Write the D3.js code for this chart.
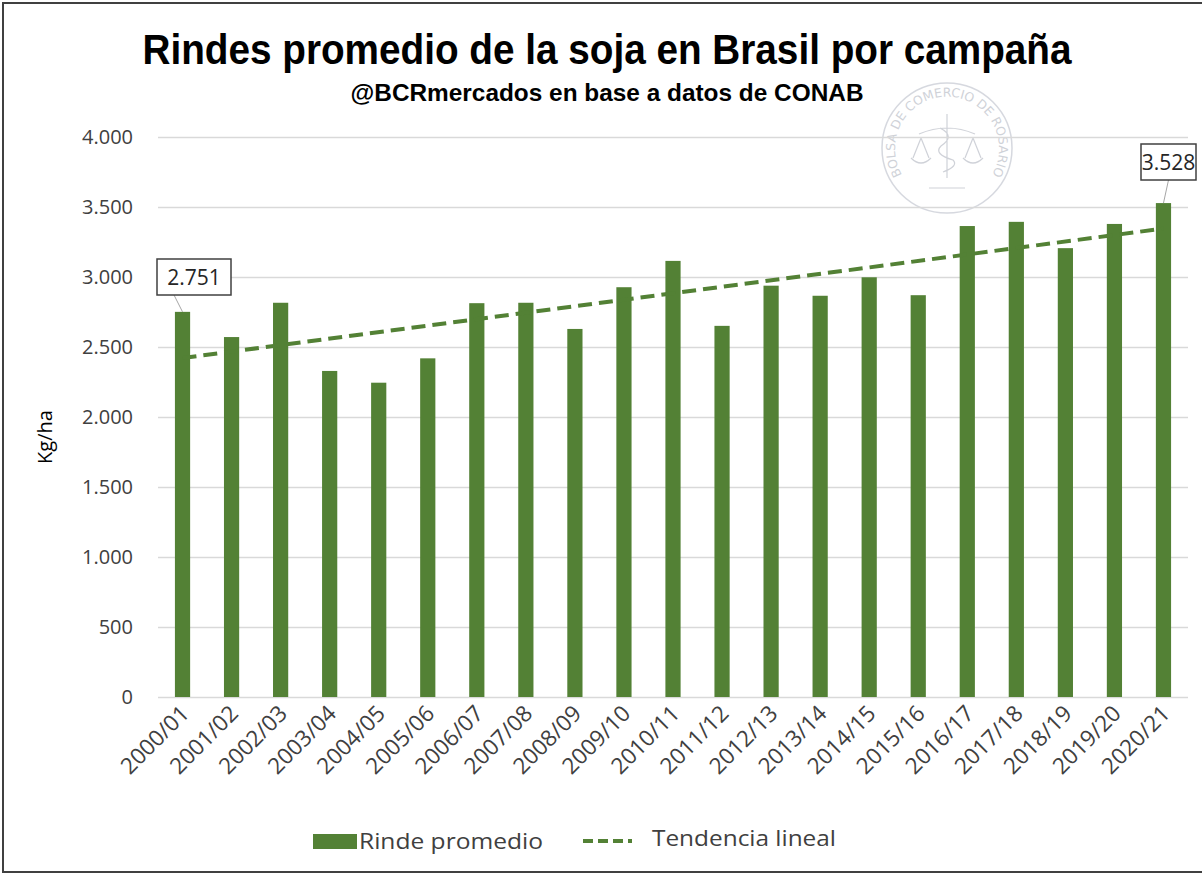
<!DOCTYPE html>
<html>
<head>
<meta charset="utf-8">
<script src="https://cdn.jsdelivr.net/npm/d3@7"></script>
<style>
  html, body { margin: 0; padding: 0; background: #fff; }
  svg { display: block; }
  .tick-label { font-family: "Open Sans", sans-serif; fill: #404040; }
</style>
</head>
<body>
<div id="chart"></div>
<script>
const campaigns = ["2000/01", "2001/02", "2002/03", "2003/04", "2004/05", "2005/06", "2006/07",
    "2007/08", "2008/09", "2009/10", "2010/11", "2011/12", "2012/13", "2013/14", "2014/15",
    "2015/16", "2016/17", "2017/18", "2018/19", "2019/20", "2020/21"];
const yields = [2751, 2571, 2816, 2329, 2245, 2419, 2813, 2816, 2629, 2927, 3115, 2651,
    2938, 2866, 2998, 2870, 3364, 3394, 3206, 3379, 3528];
const trendEnds = [2421, 3346];
const yTicks = [0, 500, 1000, 1500, 2000, 2500, 3000, 3500, 4000];
const labelled = ["2000/01", "2020/21"];

const width = 1202, height = 875;
const green = "#538135";
const fmt = v => d3.format(",")(v).replace(/,/g, ".");

const svg = d3.select("#chart").append("svg")
    .attr("width", width)
    .attr("height", height);

// outer frame
svg.append("rect")
    .attr("x", 3).attr("y", 3)
    .attr("width", width + 10).attr("height", height - 6)
    .attr("fill", "none").attr("stroke", "#404040").attr("stroke-width", 2);

const x = d3.scaleBand()
    .domain(campaigns)
    .range([158, 1188])
    .paddingInner(0.69)
    .paddingOuter(0.345);

const y = d3.scaleLinear()
    .domain([0, 4000])
    .range([697, 137]);

// watermark seal
const seal = svg.append("g").attr("transform", "translate(947,148)").attr("opacity", 0.4);
seal.append("circle").attr("r", 65).attr("fill", "none").attr("stroke", "#9aa0b0").attr("stroke-width", 1.5);
seal.append("path").attr("id", "sealArc")
    .attr("d", "M -34,40 A 52,52 0 1,1 34,40")
    .attr("fill", "none");
seal.append("text")
    .style("font-family", "DejaVu Sans, sans-serif")
    .style("font-size", "12.5px")
    .attr("fill", "#8a90a0")
    .append("textPath")
    .attr("href", "#sealArc")
    .attr("startOffset", "50%")
    .attr("text-anchor", "middle")
    .text("BOLSA DE COMERCIO DE ROSARIO");
seal.append("path")
    .attr("d", "M0,-34 L0,30 M-28,-14 Q0,-26 28,-14 M-26,-10 L-34,10 M-26,-10 L-18,10 M-36,10 Q-26,20 -16,10 M26,-10 L18,10 M26,-10 L34,10 M16,10 Q26,20 36,10 M-7,-20 Q9,-12 -6,-2 Q-14,6 6,12 Q12,18 -4,24 M-18,40 L18,40")
    .attr("fill", "none").attr("stroke", "#8a90a0").attr("stroke-width", 1.2);

// gridlines
svg.append("g")
    .attr("transform", "translate(158,0)")
    .call(d3.axisLeft(y).tickValues(yTicks).tickSize(-1030).tickFormat(""))
    .call(g => g.select(".domain").remove())
    .call(g => g.selectAll("line").attr("stroke", "#d9d9d9").attr("stroke-width", 1.5));

// y tick labels
svg.append("g")
    .attr("transform", "translate(158,0)")
    .call(d3.axisLeft(y).tickValues(yTicks).tickSize(0).tickPadding(25).tickFormat(fmt))
    .call(g => g.select(".domain").remove())
    .call(g => g.selectAll("text")
        .attr("class", "tick-label")
        .style("font-size", "20px")
        .attr("fill", "#404040"));

svg.append("text")
    .attr("transform", "translate(52,437) rotate(-90)")
    .attr("text-anchor", "middle")
    .style("font-family", "Open Sans, sans-serif")
    .style("font-size", "20px")
    .attr("fill", "#000")
    .text("Kg/ha");

// bars
svg.append("g").selectAll("rect")
    .data(campaigns)
    .join("rect")
    .attr("x", d => x(d))
    .attr("y", (d, i) => y(yields[i]))
    .attr("width", x.bandwidth())
    .attr("height", (d, i) => y(0) - y(yields[i]))
    .attr("fill", green);

// x labels
svg.append("g")
    .attr("transform", "translate(0,697)")
    .call(d3.axisBottom(x).tickSize(0).tickPadding(0))
    .call(g => g.select(".domain").remove())
    .call(g => g.selectAll("text")
        .attr("class", "tick-label")
        .style("font-size", "22.5px")
        .attr("fill", "#404040")
        .attr("text-anchor", "end")
        .attr("dy", 0)
        .attr("transform", "translate(8,18) rotate(-45)"));

// trend line
const cx = d => x(d) + x.bandwidth() / 2;
svg.append("line")
    .attr("x1", cx(campaigns[0]))
    .attr("y1", y(trendEnds[0]))
    .attr("x2", cx(campaigns[campaigns.length - 1]))
    .attr("y2", y(trendEnds[1]))
    .attr("stroke", green)
    .attr("stroke-width", 4)
    .attr("stroke-dasharray", "14 7");

// data labels
const boxes = [
    { key: labelled[0], bx: 157, by: 259, bw: 74, bh: 36 },
    { key: labelled[1], bx: 1141, by: 144, bw: 55, bh: 36 }
];
boxes.forEach(b => {
    const i = campaigns.indexOf(b.key);
    svg.append("line")
        .attr("x1", b.bx + b.bw / 2 - (i === 0 ? 20 : 0))
        .attr("y1", b.by + b.bh)
        .attr("x2", cx(b.key))
        .attr("y2", y(yields[i]))
        .attr("stroke", "#a6a6a6").attr("stroke-width", 1);
    svg.append("rect")
        .attr("x", b.bx).attr("y", b.by)
        .attr("width", b.bw).attr("height", b.bh)
        .attr("fill", "#fff").attr("stroke", "#404040").attr("stroke-width", 1.5);
    svg.append("text")
        .attr("x", b.bx + b.bw / 2).attr("y", b.by + 26)
        .attr("text-anchor", "middle")
        .style("font-family", "Open Sans, sans-serif")
        .style("font-size", "21px")
        .attr("fill", "#262626")
        .text(fmt(yields[i]));
});

// titles
svg.append("text")
    .attr("x", 607).attr("y", 64)
    .attr("text-anchor", "middle")
    .attr("textLength", 929).attr("lengthAdjust", "spacingAndGlyphs")
    .style("font-family", "Liberation Sans Narrow, Liberation Sans, sans-serif")
    .style("font-weight", "bold")
    .style("font-size", "43px")
    .text("Rindes promedio de la soja en Brasil por campaña");

svg.append("text")
    .attr("x", 607).attr("y", 101)
    .attr("text-anchor", "middle")
    .attr("textLength", 513).attr("lengthAdjust", "spacingAndGlyphs")
    .style("font-family", "Liberation Sans Narrow, Liberation Sans, sans-serif")
    .style("font-weight", "bold")
    .style("font-size", "24px")
    .text("@BCRmercados en base a datos de CONAB");

// legend
const legend = svg.append("g");
legend.append("rect")
    .attr("x", 313).attr("y", 834).attr("width", 44).attr("height", 15)
    .attr("fill", green);
legend.append("text")
    .attr("x", 359).attr("y", 849)
    .style("font-family", "Open Sans, sans-serif")
    .style("font-size", "21px")
    .attr("fill", "#404040")
    .attr("textLength", 184).attr("lengthAdjust", "spacingAndGlyphs")
    .text("Rinde promedio");
legend.append("line")
    .attr("x1", 583).attr("x2", 632).attr("y1", 841).attr("y2", 841)
    .attr("stroke", green).attr("stroke-width", 4)
    .attr("stroke-dasharray", "10 5");
legend.append("text")
    .attr("x", 652).attr("y", 846)
    .style("font-family", "Open Sans, sans-serif")
    .style("font-size", "21px")
    .attr("fill", "#404040")
    .attr("textLength", 184).attr("lengthAdjust", "spacingAndGlyphs")
    .text("Tendencia lineal");
</script>
</body>
</html>
